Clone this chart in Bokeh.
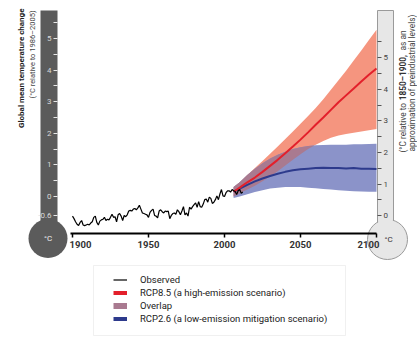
import numpy as np
from bokeh.plotting import figure
from bokeh.models import (Range1d, LinearAxis, FixedTicker, CustomJSTickFormatter,
                          Legend, LegendItem, BoxAnnotation)
from bokeh.core.properties import value
from bokeh.embed import file_html
from bokeh.resources import INLINE

# ---------------- data ----------------
obs_years = list(range(1900, 2013))
obs_anom = [
    -0.62, -0.70, -0.80, -0.88, -0.92, -0.82, -0.76, -0.90, -0.92, -0.90,
    -0.88, -0.90, -0.84, -0.80, -0.66, -0.62, -0.82, -0.90, -0.78, -0.74,
    -0.72, -0.66, -0.76, -0.72, -0.74, -0.66, -0.56, -0.66, -0.64, -0.80,
    -0.58, -0.54, -0.62, -0.76, -0.60, -0.64, -0.58, -0.46, -0.44, -0.46,
    -0.40, -0.38, -0.42, -0.36, -0.28, -0.40, -0.52, -0.54, -0.56, -0.58,
    -0.66, -0.50, -0.44, -0.40, -0.60, -0.62, -0.68, -0.46, -0.42, -0.48,
    -0.52, -0.46, -0.48, -0.46, -0.70, -0.60, -0.54, -0.52, -0.56, -0.42,
    -0.48, -0.58, -0.46, -0.32, -0.58, -0.52, -0.62, -0.34, -0.40, -0.32,
    -0.26, -0.20, -0.34, -0.16, -0.32, -0.34, -0.24, -0.10, -0.08, -0.18,
    -0.02, -0.06, -0.22, -0.18, -0.10, 0.02, -0.10, 0.08, 0.22, 0.02,
    0.00, 0.12, 0.18, 0.18, 0.14, 0.22, 0.18, 0.16, 0.06, 0.18,
    0.22, 0.10, 0.14,
]

proj_years = [2006, 2010, 2015, 2020, 2025, 2030, 2035, 2040, 2045, 2050,
              2055, 2060, 2065, 2070, 2075, 2080, 2085, 2090, 2095, 2100]
rcp85_mean = [0.15, 0.28, 0.45, 0.60, 0.78, 0.97, 1.16, 1.37, 1.58, 1.80,
              2.03, 2.27, 2.50, 2.74, 2.98, 3.20, 3.42, 3.64, 3.85, 4.05]
rcp85_upper = [0.30, 0.45, 0.68, 0.90, 1.12, 1.35, 1.58, 1.82, 2.06, 2.30,
               2.55, 2.80, 3.08, 3.38, 3.68, 3.98, 4.30, 4.62, 4.95, 5.28]
rcp85_lower = [0.00, 0.10, 0.22, 0.34, 0.48, 0.63, 0.80, 0.98, 1.16, 1.34,
               1.50, 1.64, 1.76, 1.86, 1.93, 1.98, 2.02, 2.06, 2.10, 2.14]
rcp26_mean = [0.15, 0.25, 0.37, 0.48, 0.57, 0.65, 0.72, 0.78, 0.83, 0.86,
              0.88, 0.90, 0.91, 0.90, 0.90, 0.89, 0.90, 0.88, 0.88, 0.87]
rcp26_upper = [0.30, 0.45, 0.68, 0.88, 1.05, 1.20, 1.32, 1.42, 1.50, 1.56,
               1.60, 1.62, 1.63, 1.64, 1.64, 1.64, 1.65, 1.65, 1.66, 1.67]
rcp26_lower = [-0.05, 0.00, 0.07, 0.14, 0.20, 0.25, 0.28, 0.30, 0.30, 0.30,
               0.28, 0.26, 0.24, 0.22, 0.20, 0.18, 0.17, 0.16, 0.15, 0.15]

x_ticks = [1900, 1950, 2000, 2050, 2100]
left_ticks = [-0.6, 0, 1, 2, 3, 4, 5]
left_minor = [0.5, 1.5, 2.5, 3.5, 4.5, 5.5]
right_ticks = [0, 1, 2, 3, 4, 5]
right_minor = [0.5, 1.5, 2.5, 3.5, 4.5, 5.5]
preindustrial_offset = 0.61

legend_labels = ["Observed", "RCP8.5 (a high-emission scenario)", "Overlap",
                 "RCP2.6 (a low-emission mitigation scenario)"]

# ---------------- style / layout ----------------
FONT = "Roboto"
RED_BAND = "#f5957f"
BLUE_BAND = "#8b93c9"
OVERLAP = "#a97a90"
RED_LINE = "#e3202b"
BLUE_LINE = "#2d3a8c"
DARK_TUBE = "#5b5b5b"
LIGHT_TUBE = "#e7e7e7"
FS = "\u2007"

W, H = 417, 338
X0, PXY = 72.0, 1.52      # pixel of year 1900, px per year
Y0, PXD = 196.0, 31.6     # pixel of 0 degC, px per degC


def fx(px):
    return 1900 + (px - X0) / PXY


def fy(py):
    return (Y0 - py) / PXD


p = figure(width=W, height=H, x_range=Range1d(fx(0), fx(W)),
           y_range=Range1d(fy(H), fy(0)), x_axis_type=None, y_axis_type=None,
           toolbar_location=None, output_backend="svg", min_border=0)
p.outline_line_color = None
p.background_fill_color = "white"
p.border_fill_color = "white"
p.extra_y_ranges = {"pi": Range1d(fy(H) + preindustrial_offset,
                                  fy(0) + preindustrial_offset)}

# ---------------- thermometers ----------------
p.quad(left=[fx(40)], right=[fx(57)], top=[fy(10)], bottom=[fy(236)],
       fill_color=DARK_TUBE, line_color=None)
p.scatter(x=[fx(47.5)], y=[fy(238)], size=39, marker="circle",
          fill_color=DARK_TUBE, line_color=None)
p.text(x=[fx(47.5)], y=[fy(238)], text=["°C"], text_align="center",
       text_baseline="middle", text_font=value(FONT), text_font_size="8px",
       text_color="#f0f0f0")

p.quad(left=[fx(377)], right=[fx(393)], top=[fy(10)], bottom=[fy(230)],
       fill_color=LIGHT_TUBE, line_color="#9a9a9a", line_width=1)
p.scatter(x=[fx(387)], y=[fy(239)], size=40, marker="circle",
          fill_color=LIGHT_TUBE, line_color="#9a9a9a", line_width=1)
p.quad(left=[fx(377.6)], right=[fx(392.4)], top=[fy(200)], bottom=[fy(236)],
       fill_color=LIGHT_TUBE, line_color=None)
p.text(x=[fx(388)], y=[fy(239)], text=["°C"], text_align="center",
       text_baseline="middle", text_font=value(FONT), text_font_size="8px",
       text_color="#333333")

# ---------------- projections ----------------
p.varea(x=proj_years, y1=rcp85_lower, y2=rcp85_upper, fill_color=RED_BAND)
p.varea(x=proj_years, y1=rcp26_lower, y2=rcp26_upper, fill_color=BLUE_BAND)

xs = [float(v) for v in proj_years]
lines = [rcp85_lower, rcp85_upper, rcp26_lower, rcp26_upper]
brk = set(xs)
for i in range(len(xs) - 1):
    for a in range(4):
        for b in range(a + 1, 4):
            d0 = lines[a][i] - lines[b][i]
            d1 = lines[a][i + 1] - lines[b][i + 1]
            if d0 * d1 < 0:
                t = d0 / (d0 - d1)
                brk.add(xs[i] + t * (xs[i + 1] - xs[i]))
ox = np.array(sorted(brk))
l85, u85, l26, u26 = (np.interp(ox, xs, ln) for ln in lines)
olo = np.maximum(l85, l26)
ohi = np.maximum(np.minimum(u85, u26), olo)
p.varea(x=ox, y1=olo, y2=ohi, fill_color=OVERLAP)

p.line(proj_years, rcp26_mean, line_color=BLUE_LINE, line_width=2)
p.line(proj_years, rcp85_mean, line_color=RED_LINE, line_width=2)
p.line(obs_years, obs_anom, line_color="black", line_width=1.2)

# ---------------- axes ----------------
xaxis = LinearAxis(fixed_location=fy(232.5), ticker=FixedTicker(ticks=x_ticks),
                   bounds=(fx(70), 2100))
xaxis.axis_line_width = 2
xaxis.axis_line_color = "black"
xaxis.major_tick_out = 4
xaxis.major_tick_in = 0
xaxis.major_tick_line_width = 1.5
xaxis.minor_tick_line_color = None
xaxis.major_label_standoff = 2
xaxis.major_label_text_font = FONT
xaxis.major_label_text_font_size = "9.5px"
xaxis.major_label_text_font_style = "bold"
xaxis.major_label_text_color = "#333333"
xaxis.major_label_overrides = {1900: FS * 3 + "1900", 2100: "2100" + FS * 3}
p.add_layout(xaxis, "below")

fmt = CustomJSTickFormatter(code="return Math.abs(tick - Math.round(tick)) < 1e-6 ? tick.toFixed(0) : tick.toFixed(1);")

laxis = LinearAxis(fixed_location=fx(57), ticker=FixedTicker(ticks=left_ticks, minor_ticks=left_minor),
                   bounds=(-0.6, 5.5), formatter=fmt)
laxis.axis_line_color = None
laxis.major_tick_out = 4
laxis.major_tick_in = 0
laxis.minor_tick_out = 4
laxis.minor_tick_in = 0
laxis.major_tick_line_color = "#e8e8e8"
laxis.minor_tick_line_color = "#e8e8e8"
laxis.major_label_standoff = 2
laxis.major_label_text_font = FONT
laxis.major_label_text_font_size = "8px"
laxis.major_label_text_color = "#d8d8d8"
p.add_layout(laxis, "left")

raxis = LinearAxis(y_range_name="pi", fixed_location=fx(377),
                   ticker=FixedTicker(ticks=right_ticks, minor_ticks=right_minor),
                   bounds=(0, 5.5), formatter=fmt)
raxis.axis_line_color = None
raxis.major_tick_out = 4
raxis.major_tick_in = 0
raxis.minor_tick_out = 4
raxis.minor_tick_in = 0
raxis.major_tick_line_color = "#555555"
raxis.minor_tick_line_color = "#555555"
raxis.major_label_standoff = 2
raxis.major_label_text_font = FONT
raxis.major_label_text_font_size = "8px"
raxis.major_label_text_color = "#444444"
p.add_layout(raxis, "right")

# ---------------- axis titles ----------------
p.text(x=[fx(21)], y=[fy(8)], text=["Global mean temperature change"], angle=np.pi / 2,
       text_align="right", text_baseline="middle", text_font=value(FONT),
       text_font_size="8px", text_font_style="bold", text_color="#222222")
p.text(x=[fx(32)], y=[fy(10)], text=["(°C relative to 1986–2005)"], angle=np.pi / 2,
       text_align="right", text_baseline="middle", text_font=value(FONT),
       text_font_size="7.5px", text_color="#444444")

TS = 8.3  # px
Y_START = 152
p.text(x=[fx(402)], y=[fy(Y_START)], text=["(°C relative to"], angle=np.pi / 2,
       text_align="left", text_baseline="middle", text_font=value(FONT),
       text_font_size=f"{TS}px", text_color="#444444")
p.text(x=[fx(402)], y=[fy(Y_START - 6.3 * TS)], text=["1850–1900,"], angle=np.pi / 2,
       text_align="left", text_baseline="middle", text_font=value(FONT),
       text_font_size=f"{TS}px", text_font_style="bold", text_color="#333333")
p.text(x=[fx(402)], y=[fy(Y_START - 6.3 * TS - 6.0 * TS)], text=["as an"], angle=np.pi / 2,
       text_align="left", text_baseline="middle", text_font=value(FONT),
       text_font_size=f"{TS}px", text_color="#444444")
p.text(x=[fx(411.5)], y=[fy(Y_START - 1)], text=["approximation of preindustrial levels)"], angle=np.pi / 2,
       text_align="left", text_baseline="middle", text_font=value(FONT),
       text_font_size=f"{TS}px", text_color="#444444")

# ---------------- legend ----------------
box = BoxAnnotation(left=fx(93), right=fx(345), top=fy(265), bottom=fy(335),
                    fill_color="white", fill_alpha=1, line_color="#cccccc", line_width=1)
p.add_layout(box)

nan = [float("nan")]
r_obs = p.line(x=nan, y=nan, line_color="black", line_width=1.2)
r_85 = p.line(x=nan, y=nan, line_color=RED_LINE, line_width=4)
r_ov = p.line(x=nan, y=nan, line_color=OVERLAP, line_width=6)
r_26 = p.line(x=nan, y=nan, line_color=BLUE_LINE, line_width=4)
legend = Legend(items=[LegendItem(label=lab, renderers=[r]) for lab, r in
                       zip(legend_labels, [r_obs, r_85, r_ov, r_26])],
                location=(113, H - 325), border_line_color=None, background_fill_alpha=0,
                padding=0, margin=0, spacing=0, glyph_width=14, glyph_height=13,
                label_height=13, label_standoff=13, label_text_font=FONT,
                label_text_font_size="9.5px", label_text_color="#222222")
p.add_layout(legend)

open("out.html", "w").write(file_html(p, INLINE))
